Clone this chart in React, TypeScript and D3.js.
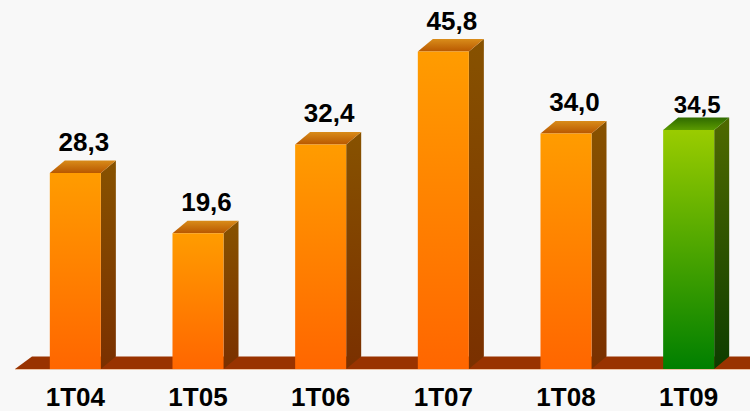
import React, { useEffect } from "react";
import * as d3 from "d3";

const categories = ["1T04", "1T05", "1T06", "1T07", "1T08", "1T09"];
const values = [28.3, 19.6, 32.4, 45.8, 34.0, 34.5];
const valueLabels = ["28,3", "19,6", "32,4", "45,8", "34,0", "34,5"];
const highlight = [false, false, false, false, false, true];

const W = 750;
const H = 411;
const BASE = 369;
const DX = 15;
const DY = 12.5;

export default function App() {
  useEffect(() => {
    document.body.style.margin = "0";
  }, []);

  const x = d3
    .scaleBand<string>()
    .domain(categories)
    .range([14, 750])
    .paddingInner(0.584)
    .paddingOuter(0.292);
  const y = d3.scaleLinear().domain([0, 50]).range([BASE, BASE - 50 * 6.93]);
  const bw = x.bandwidth();

  const floor = [
    [15, BASE],
    [15 + DX + 2, BASE - DY],
    [W, BASE - DY],
    [W, BASE],
  ];
  const line = d3.line();

  return (
    <svg width={W} height={H} style={{ display: "block", background: "#f8f8f8" }}>
      <defs>
        <linearGradient id="fo" x1="0" y1="0" x2="0" y2="1">
          <stop offset="0" stopColor="#ff9c00" />
          <stop offset="1" stopColor="#ff6600" />
        </linearGradient>
        <linearGradient id="so" x1="0" y1="0" x2="0" y2="1">
          <stop offset="0" stopColor="#875200" />
          <stop offset="1" stopColor="#7a3000" />
        </linearGradient>
        <linearGradient id="to" x1="0" y1="0" x2="0" y2="1">
          <stop offset="0" stopColor="#d98c1a" />
          <stop offset="1" stopColor="#b85800" />
        </linearGradient>
        <linearGradient id="fg" x1="0" y1="0" x2="0" y2="1">
          <stop offset="0" stopColor="#9acc00" />
          <stop offset="1" stopColor="#007f00" />
        </linearGradient>
        <linearGradient id="sg" x1="0" y1="0" x2="0" y2="1">
          <stop offset="0" stopColor="#4f6a00" />
          <stop offset="1" stopColor="#0d3d00" />
        </linearGradient>
        <linearGradient id="tg" x1="0" y1="0" x2="0" y2="1">
          <stop offset="0" stopColor="#2f6a00" />
          <stop offset="1" stopColor="#5a9a00" />
        </linearGradient>
      </defs>

      <path d={line(floor as [number, number][]) + "Z"} fill="#993300" />
      <line x1={15} x2={W} y1={BASE + 0.5} y2={BASE + 0.5} stroke="#ecc4a6" strokeWidth={1} />

      {categories.map((c, i) => {
        const x0 = x(c)!;
        const x1 = x0 + bw;
        const yt = y(values[i]);
        const g = highlight[i];
        const front = [[x0, yt], [x1, yt], [x1, BASE], [x0, BASE]];
        const side = [[x1, yt], [x1 + DX, yt - DY], [x1 + DX, BASE - DY], [x1, BASE]];
        const top = [[x0, yt], [x0 + DX, yt - DY], [x1 + DX, yt - DY], [x1, yt]];
        return (
          <g key={c}>
            <path d={line(side as [number, number][]) + "Z"} fill={g ? "url(#sg)" : "url(#so)"} />
            <path d={line(top as [number, number][]) + "Z"} fill={g ? "url(#tg)" : "url(#to)"} />
            <path d={line(front as [number, number][]) + "Z"} fill={g ? "url(#fg)" : "url(#fo)"} />
            <text
              x={x0 + bw / 2 + DX / 2 + 1}
              y={yt - (g ? 17 : 22)}
              textAnchor="middle"
              fontFamily="Liberation Sans, Arial, sans-serif"
              fontWeight="bold"
              fontSize={g ? 24 : 26}
              fill="#000"
            >
              {valueLabels[i]}
            </text>
            <text
              x={x0 + bw / 2}
              y={406}
              textAnchor="middle"
              fontFamily="Liberation Sans, Arial, sans-serif"
              fontWeight="bold"
              fontSize={26}
              fill="#000"
            >
              {c}
            </text>
          </g>
        );
      })}
    </svg>
  );
}
